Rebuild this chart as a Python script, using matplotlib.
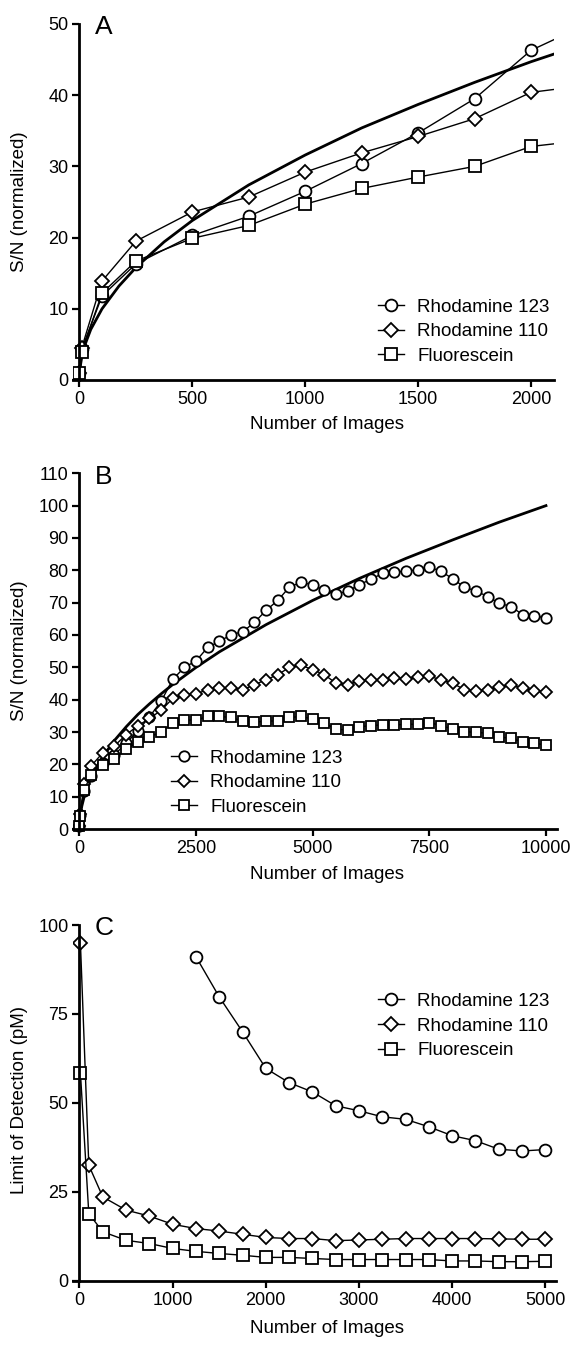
import matplotlib
matplotlib.use('Agg')
import matplotlib.pyplot as plt

plt.rcParams['font.family'] = ['Liberation Sans', 'DejaVu Sans']

# S/N data (panels A and B share the same measurements)
n_images = [0, 10, 100, 250, 500, 750, 1000, 1250, 1500, 1750, 2000,
            2250, 2500, 2750, 3000, 3250, 3500, 3750, 4000, 4250, 4500,
            4750, 5000, 5250, 5500, 5750, 6000, 6250, 6500, 6750, 7000,
            7250, 7500, 7750, 8000, 8250, 8500, 8750, 9000, 9250, 9500,
            9750, 10000]
sn_rh123 = [1.0, 4.3, 11.8, 16.3, 20.3, 23.0, 26.5, 30.4, 34.7, 39.5, 46.3,
            50.0, 52.0, 56.2, 58.0, 60.1, 61.0, 63.9, 67.6, 70.7, 74.8,
            76.3, 75.5, 73.8, 72.7, 73.5, 75.6, 77.2, 79.1, 79.5, 79.7,
            80.2, 81.0, 79.7, 77.4, 74.8, 73.6, 71.9, 69.8, 68.8, 66.3,
            66.0, 65.2]
sn_rh110 = [1.0, 4.5, 13.9, 19.5, 23.6, 25.7, 29.2, 31.9, 34.2, 36.7, 40.4,
            41.4, 41.8, 43.1, 43.6, 43.6, 43.1, 44.6, 46.2, 47.7, 50.0,
            50.6, 49.3, 47.7, 45.1, 44.6, 45.9, 46.2, 46.2, 46.7, 46.4,
            46.9, 47.2, 46.2, 45.1, 43.1, 42.8, 43.1, 43.9, 44.6, 43.5,
            42.8, 42.3]
sn_fluor = [1.0, 4.0, 12.2, 16.7, 19.9, 21.7, 24.7, 26.9, 28.5, 30.0, 32.8,
            33.7, 33.7, 34.8, 34.8, 34.5, 33.4, 33.0, 33.4, 33.4, 34.5,
            34.8, 34.0, 32.7, 30.9, 30.6, 31.6, 32.0, 32.2, 32.2, 32.4,
            32.4, 32.9, 32.0, 30.9, 30.1, 29.9, 29.6, 28.5, 28.0, 27.0,
            26.5, 26.0]

# theoretical curve
fit_n = [0, 5, 10, 25, 50, 100, 175, 250, 375, 500, 750, 1000, 1250, 1500,
         1750, 2000, 2500, 3000, 4000, 5000, 6000, 7000, 8000, 9000, 10000]
fit_sn = [0, 2.2, 3.2, 5.0, 7.1, 10.0, 13.2, 15.8, 19.4, 22.4, 27.4, 31.6,
          35.4, 38.7, 41.8, 44.7, 50.0, 54.8, 63.2, 70.7, 77.5, 83.7, 89.4,
          94.9, 100.0]

# limit of detection data (panel C)
lod_n = [10, 100, 250, 500, 750, 1000, 1250, 1500, 1750, 2000, 2250, 2500,
         2750, 3000, 3250, 3500, 3750, 4000, 4250, 4500, 4750, 5000]
lod_rh110 = [95.0, 32.5, 23.6, 19.9, 18.2, 15.9, 14.7, 14.0, 13.1, 12.2, 11.9,
             11.9, 11.3, 11.5, 11.7, 11.9, 11.9, 11.9, 11.9, 11.8, 11.7, 11.7]
lod_fluor = [58.5, 18.9, 13.8, 11.4, 10.5, 9.1, 8.3, 7.7, 7.2, 6.6, 6.6, 6.3,
             6.0, 6.0, 6.0, 6.0, 6.0, 5.6, 5.6, 5.4, 5.4, 5.5]
lod_n_rh123 = [1250, 1500, 1750, 2000, 2250, 2500, 2750, 3000, 3250, 3500,
               3750, 4000, 4250, 4500, 4750, 5000]
lod_rh123 = [91.1, 79.8, 70.0, 59.7, 55.7, 53.1, 49.2, 47.8, 46.1, 45.4,
             43.3, 40.8, 39.4, 37.0, 36.5, 36.9]

labels = ['Rhodamine 123', 'Rhodamine 110', 'Fluorescein']
W, H = 574, 1347

fig = plt.figure(figsize=(W / 100, H / 100), dpi=100)


def box(x0, x1, ytop, ybot):
    # pixel box -> figure fraction
    return [x0 / W, 1 - ybot / H, (x1 - x0) / W, (ybot - ytop) / H]


def style(ax, ymax, xticks, yticks, ylabel, ylab_y, xlab_y):
    for s in ['top', 'right']:
        ax.spines[s].set_visible(False)
    ax.spines['left'].set_position(('data', 0))
    ax.spines['bottom'].set_position(('data', 0))
    ax.spines['left'].set_bounds(0, ymax)
    for s in ['left', 'bottom']:
        ax.spines[s].set_linewidth(2.0)
    ax.set_xticks(xticks)
    ax.set_yticks(yticks)
    ax.tick_params(width=1.6, length=5, labelsize=13, pad=3)
    ax.set_ylabel(ylabel, fontsize=13.5)
    ax.yaxis.set_label_coords(28 / W, 1 - ylab_y / H, transform=fig.transFigure)
    ax.set_xlabel('Number of Images', fontsize=13.5)
    ax.xaxis.set_label_coords(327 / W, 1 - xlab_y / H, transform=fig.transFigure)


def series(ax, x, ys, ms):
    kw = dict(color='black', lw=1.0, mfc='white', mec='black', mew=1.3)
    h1, = ax.plot(x[0], ys[0], marker='o', ms=ms, **kw)
    h2, = ax.plot(x[1], ys[1], marker='D', ms=ms - 1, **kw)
    h3, = ax.plot(x[2], ys[2], marker='s', ms=ms - 0.5, **kw)
    return [h1, h2, h3]


def legend(ax, handles, xpx, ypx):
    ax.legend(handles, labels, loc='center left', frameon=False,
              bbox_to_anchor=(xpx / W, 1 - ypx / H), bbox_transform=fig.transFigure,
              fontsize=13.5, handlelength=1.4, handletextpad=0.7,
              labelspacing=0.4, borderpad=0, borderaxespad=0, numpoints=1)


# Panel A
axA = fig.add_axes(box(72.7, 553.6, 24, 387.1))
axA.plot(fit_n, fit_sn, color='black', lw=2.0, zorder=1)
hA = series(axA, [n_images] * 3, [sn_rh123, sn_rh110, sn_fluor], 8.5)
axA.set_xlim(-30, 2100)
axA.set_ylim(-1, 50)
style(axA, 50, [0, 500, 1000, 1500, 2000], [0, 10, 20, 30, 40, 50],
      'S/N (normalized)', 202, 416)
legend(axA, hA, 378, 331.7)
fig.text(95 / W, 1 - 27 / H, 'A', fontsize=19, va='center')

# Panel B
axB = fig.add_axes(box(72.5, 556.7, 473.3, 835.5))
axB.plot(fit_n, fit_sn, color='black', lw=2.0, zorder=1)
hB = series(axB, [n_images] * 3, [sn_rh123, sn_rh110, sn_fluor], 7.5)
axB.set_xlim(-150, 10230)
axB.set_ylim(-2, 110)
style(axB, 110, [0, 2500, 5000, 7500, 10000], list(range(0, 111, 10)),
      'S/N (normalized)', 651, 866)
legend(axB, hB, 171, 782.7)
fig.text(95 / W, 1 - 477 / H, 'B', fontsize=19, va='center')

# Panel C
axC = fig.add_axes(box(72.5, 556.0, 925, 1288))
hC = series(axC, [lod_n_rh123, lod_n, lod_n],
            [lod_rh123, lod_rh110, lod_fluor], 8.5)
axC.set_xlim(-75, 5115)
axC.set_ylim(-2, 100)
style(axC, 100, [0, 1000, 2000, 3000, 4000, 5000], [0, 25, 50, 75, 100],
      'Limit of Detection (pM)', 1100, 1320)
legend(axC, hC, 378, 1026)
fig.text(95 / W, 1 - 928 / H, 'C', fontsize=19, va='center')

fig.savefig('out.png', dpi=100)
